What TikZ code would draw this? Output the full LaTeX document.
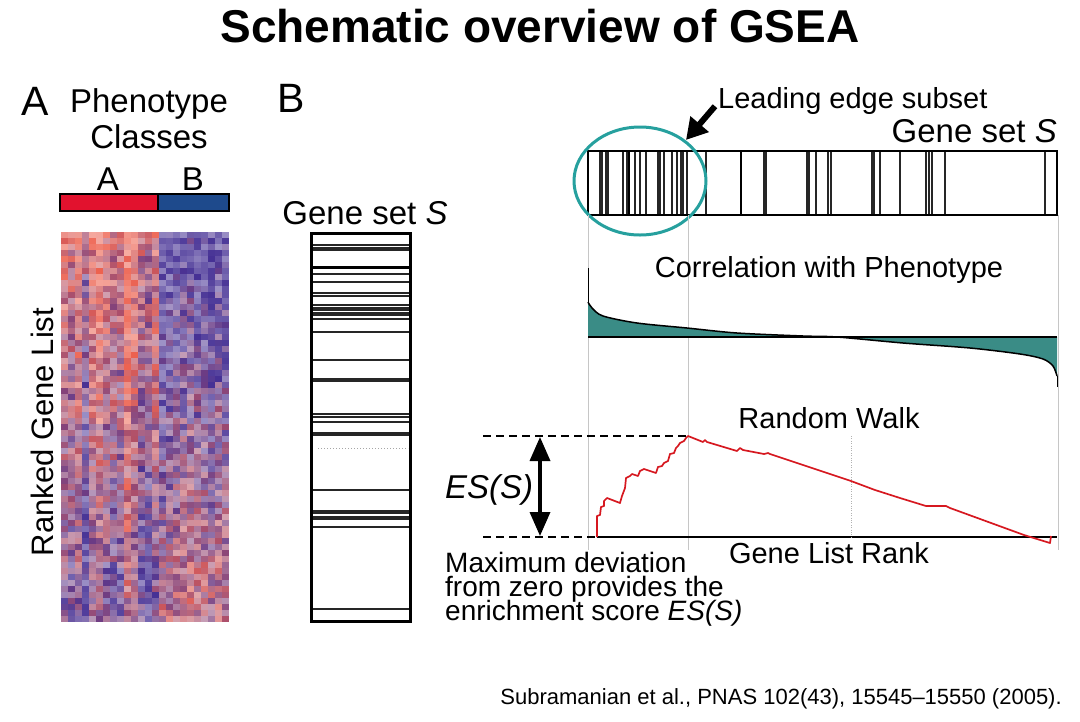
\documentclass[tikz,border=0pt]{standalone}
\usepackage{fontspec}
\setmainfont{Liberation Sans}
\usetikzlibrary{arrows.meta,positioning}

\definecolor{hmred}{RGB}{236,86,66}
\definecolor{hmblue}{RGB}{58,36,142}
\definecolor{clsred}{RGB}{226,18,46}
\definecolor{clsblue}{RGB}{30,74,140}
\definecolor{ringteal}{RGB}{38,160,158}
\definecolor{corrteal}{RGB}{58,140,134}
\definecolor{walkred}{RGB}{214,24,32}

\newcommand\tightlines{\lineskiplimit=-40pt\relax}

\tikzset{
  lbl/.style={font=\fontsize{29}{34}\selectfont, inner sep=0pt},
  biglbl/.style={font=\fontsize{33}{38}\selectfont, inner sep=0pt},
  panel/.style={font=\fontsize{41}{46}\selectfont, inner sep=0pt},
  guide/.style={gray!45, line width=1pt},
  hit/.style={line width=1.1pt, black!85},
  esdash/.style={dash pattern=on 8pt off 5pt, line width=1.4pt},
}

\begin{document}
\begin{tikzpicture}[x=1pt,y=-1pt]
        \useasboundingbox (0,0) rectangle (1080,721);

        % Titolo
        \node[anchor=base, inner sep=0pt, font=\fontsize{46}{50}\selectfont\bfseries] (title) at (540,42) {Schematic overview of GSEA};

        % Pannello A
        \node[panel, anchor=base west] (panA) at (21,115) {A};
        \node[biglbl, anchor=base] (pheno) at (149,112) {Phenotype};
        \node[biglbl, anchor=base] (classes) at (149,148) {Classes};
        \node[biglbl, anchor=base] (clsA) at (108,190) {A};
        \node[biglbl, anchor=base] (clsB) at (193,190) {B};
        \filldraw[fill=clsred, line width=1.5pt] (60,194) rectangle (158,211);
        \filldraw[fill=clsblue, line width=1.5pt] (158,194) rectangle (229,211);

        % Heatmap
        \pgfmathsetseed{42}
        \foreach \c in {0,...,23}{
          \foreach \r in {0,...,64}{
            \pgfmathsetmacro\bias{{0.05,-0.05,0.1,-0.35,0.1,0.2,0.05,-0.05,-0.1,0.35,0.1,-0.15,-0.25,0.05,-0.1,-0.05,0.05,0.1,0.15,0.05,0,-0.05,0.05,0}[\c]}
            \pgfmathsetmacro\lvl{(\c<14 ? 0.82-0.62*\r/64 : -0.2+0.85*\r/64)+\bias+0.3*rand}
            \pgfmathtruncatemacro\redpc{100*max(0,min(1,\lvl))}
            \pgfmathtruncatemacro\litepc{50+45*rnd}
            \fill[hmred!\redpc!hmblue!\litepc!white] ({61+7*\c},{232+6*\r}) rectangle +(7,6);
          }
        }
        \node[anchor=base, rotate=90, inner sep=0pt, font=\fontsize{31}{36}\selectfont] (ranked) at (53,432) {Ranked Gene List};

        % Pannello B
        \node[panel, anchor=base west] (panB) at (277,112) {B};

        % Gene set S (verticale)
        \node[biglbl, anchor=base] (setleft) at (365,224) {Gene set \textit{S}};
        \foreach \y in {245,248,250,274,282,293,296,305,308,310,313,315,319,332,360,379,381,414,417,422,433,435,490,511,513,517,519,527,609}
          \draw[hit] (311,\y) -- (410,\y);
        \draw[line width=3pt] (311,267) -- (410,267);
        \draw[gray!70, line width=1pt, dotted] (318,448) -- (408,448);
        \draw[line width=3pt] (311,233) rectangle (410,621);

        % Gene set S (orizzontale)
        \node[biglbl, anchor=base east] (settop) at (1057,142) {Gene set \textit{S}};
        \foreach \x in {600,602,606,608,623,627,635,640,646,658,660,664,672,677,681,683,687,706,764,766,807,809,816,828,831,872,874,880,900,926,929,932,945,1045}
          \draw[hit] (\x,151) -- (\x,215);
        \draw[line width=2.5pt] (629,151) -- (629,215);
        \draw[line width=2.5pt] (741,151) -- (741,215);
        \draw[line width=2pt] (588,151) rectangle (1057,215);

        % Leading edge
        \draw[ringteal, line width=3pt] (640,181) ellipse [x radius=66, y radius=54];
        \node[lbl, anchor=base west] (lead) at (718,108) {Leading edge subset};
        \coordinate (leadtip) at (686,140);
        \draw[line width=6pt, -{Triangle[length=21pt,width=23pt]}] ([xshift=-3pt,yshift=8pt]lead.south west) -- (leadtip);

        % Linee guida
        \draw[guide] (588,215) -- (588,550);
        \draw[guide] (688,215) -- (688,550);
        \draw[guide] (1058,215) -- (1058,550);

        % Correlazione
        \node[lbl, anchor=base] (corr) at (829,277) {Correlation with Phenotype};
        \fill[corrteal] (588,337) -- plot[smooth, tension=0.5] coordinates {(588,302) (592,308) (603,316) (637,323) (687,328) (737,333) (803,336) (837,337) (903,343) (970,348) (1020,354) (1043,359) (1053,366) (1057,376)} -- (1057,337) -- cycle;
        \draw[line width=1.5pt] plot[smooth, tension=0.5] coordinates {(588,302) (592,308) (603,316) (637,323) (687,328) (737,333) (803,336) (837,337) (903,343) (970,348) (1020,354) (1043,359) (1053,366) (1057,376)};
        \draw[line width=1pt] (588,268) -- (588,302);
        \draw[line width=1pt] (1057,376) -- (1057,387);
        \draw[line width=1.5pt] (588,337) -- (1057,337);

        % Random walk
        \node[lbl, anchor=base] (walk) at (829,428) {Random Walk};
        \node[lbl, anchor=base] (rank) at (829,563) {Gene List Rank};
        \draw[esdash] (483,436) -- (688,436);
        \draw[esdash] (483,537) -- (597,537);
        \draw[line width=2pt] (597,537) -- (1057,537);
        \draw[gray!60, dotted] (851,436) -- (851,537);
        \coordinate (estop) at (540,437);
        \coordinate (esbot) at (540,536);
        \draw[line width=3.5pt, {Triangle[length=24pt,width=20pt]}-{Triangle[length=24pt,width=20pt]}] (estop) -- (esbot);
        \draw[walkred, line width=1.7pt, line join=round] (597,537) -- (597,516) -- (600,515) -- (601,507) -- (604,506) -- (604,501) -- (607,498) -- (620,503) -- (622,496) -- (625,488) -- (626,478) -- (630,476) -- (632,474) -- (638,476) -- (640,471) -- (644,469) -- (656,473) -- (658,467) -- (662,466) -- (664,463) -- (668,461) -- (670,454) -- (674,453) -- (676,448) -- (678,446) -- (680,443) -- (684,441) -- (686,438) -- (688,436) -- (703,442) -- (705,440) -- (707,442) -- (737,451) -- (740,448) -- (743,450) -- (764,454) -- (768,453) -- (770,454) -- (851,481) -- (875,490) -- (900,498) -- (926,506) -- (946,506) -- (950,508) -- (1024,535) -- (1050,543) -- (1051,536);

        % Testi ES
        \node[biglbl, anchor=base west, font=\fontsize{33}{38}\selectfont\itshape] (es) at (445,498) {ES(S)};
        \node[anchor=north west, inner sep=0pt, align=left, font={\fontsize{28}{24}\selectfont\tightlines}] (maxdev) at (445,552) {Maximum deviation\\from zero provides the\\enrichment score \textit{ES(S)}};

        % Fonte
        \node[anchor=base east, inner sep=0pt, font=\fontsize{22}{26}\selectfont] (cite) at (1062,704) {Subramanian et al., PNAS 102(43), 15545--15550 (2005).};
\end{tikzpicture}
\end{document}
